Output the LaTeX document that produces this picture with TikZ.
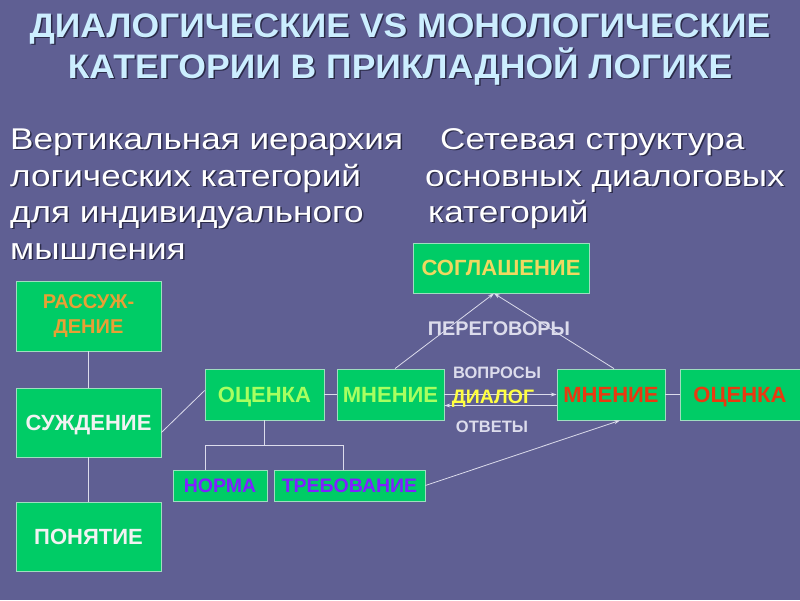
\documentclass[tikz,border=0pt]{standalone}
\usepackage{fontspec}
\setmainfont{Liberation Sans}
\usetikzlibrary{arrows.meta}
\definecolor{bg}{HTML}{5F5F93}
\definecolor{boxfill}{HTML}{00CC66}
\definecolor{boxline}{HTML}{9FDDC0}
\definecolor{titlec}{HTML}{CCEEFF}
\definecolor{shadowc}{HTML}{2A2A48}
\definecolor{orangec}{HTML}{E8A035}
\definecolor{whitec}{HTML}{F2F2F2}
\definecolor{lgreen}{HTML}{A8FF60}
\definecolor{purplec}{HTML}{8020FF}
\definecolor{yellowc}{HTML}{F0D860}
\definecolor{redc}{HTML}{E83A10}
\definecolor{linec}{HTML}{DCDCEC}
\definecolor{dyellow}{HTML}{FFFF40}
\newcommand\wide[1]{\scalebox{1.17}[1]{#1}}
\tikzset{
  catbox/.style={draw=boxline, line width=0.8pt, fill=boxfill, inner sep=0pt,
    font=\bfseries\fontsize{22}{26}\selectfont, align=center},
  nodepth/.style={text depth=0pt},
  conn/.style={draw=linec, line width=0.8pt},
  arr/.style={conn, -{Stealth[length=6pt,width=4pt]}},
  lbl/.style={text=linec, inner sep=0pt},
  titletext/.style={font=\bfseries\fontsize{34}{38}\selectfont, inner sep=0pt, anchor=base},
  bodytext/.style={font=\fontsize{30}{34}\selectfont, inner sep=0pt, anchor=base west},
}
\begin{document}
\begin{tikzpicture}[x=1pt,y=-1pt]
\fill[bg] (0,0) rectangle (800,600);
\useasboundingbox (0,0) rectangle (800,600);
% title
\node[titletext, text=shadowc] (t1s) at (401.5,38.5) {\scalebox{1.045}[1]{ДИАЛОГИЧЕСКИЕ VS МОНОЛОГИЧЕСКИЕ}};
\node[titletext, text=titlec] (t1) at (400,37) {\scalebox{1.045}[1]{ДИАЛОГИЧЕСКИЕ VS МОНОЛОГИЧЕСКИЕ}};
\node[titletext, text=shadowc] (t2s) at (401.5,79.5) {\scalebox{1.045}[1]{КАТЕГОРИИ В ПРИКЛАДНОЙ ЛОГИКЕ}};
\node[titletext, text=titlec] (t2) at (400,78) {\scalebox{1.045}[1]{КАТЕГОРИИ В ПРИКЛАДНОЙ ЛОГИКЕ}};
% body text, left column
\foreach \t/\y [count=\i] in {Вертикальная иерархия/149, логических категорий/186, для индивидуального/222, мышления/259}{
  \node[bodytext, text=shadowc] (ls\i) at (11.5,\y+1.5) {\wide{\t}};
  \node[bodytext, text=white] (l\i) at (10,\y) {\wide{\t}};
}
% body text, right column
\foreach \t/\x/\y [count=\i] in {Сетевая структура/440/149, основных диалоговых/425/186, категорий/428/222}{
  \node[bodytext, text=shadowc] (rs\i) at (\x+1.5,\y+1.5) {\wide{\t}};
  \node[bodytext, text=white] (r\i) at (\x,\y) {\wide{\t}};
}
% boxes
\node[catbox, minimum width=145pt, minimum height=70pt, text=orangec,
  font=\bfseries\fontsize{20}{25}\selectfont] (ras) at (88.5,316) {РАССУЖ-\\ДЕНИЕ};
\node[catbox, nodepth, minimum width=145pt, minimum height=69pt, text=whitec] (sud) at (88.5,422.5) {СУЖДЕНИЕ};
\node[catbox, minimum width=145pt, minimum height=69pt, text=whitec] (pon) at (88.5,536.5) {ПОНЯТИЕ};
\node[catbox, nodepth, minimum width=119pt, minimum height=51pt, text=lgreen] (oc1) at (264.5,394.5) {ОЦЕНКА};
\node[catbox, minimum width=107pt, minimum height=51pt, text=lgreen] (mn1) at (390.5,394.5) {МНЕНИЕ};
\node[catbox, minimum width=94pt, minimum height=31pt, text=purplec,
  font=\bfseries\fontsize{19.5}{22}\selectfont] (norm) at (220,485.5) {НОРМА};
\node[catbox, minimum width=151pt, minimum height=31pt, text=purplec,
  font=\bfseries\fontsize{19.5}{22}\selectfont] (treb) at (349.5,485.5) {ТРЕБОВАНИЕ};
\node[catbox, minimum width=176pt, minimum height=50pt, text=yellowc] (sogl) at (501,268) {СОГЛАШЕНИЕ};
\node[catbox, minimum width=108pt, minimum height=51pt, text=redc] (mn2) at (611,394.5) {МНЕНИЕ};
\node[catbox, nodepth, minimum width=120pt, minimum height=51pt, text=redc] (oc2) at (740,394.5) {ОЦЕНКА};
% connectors
\draw[conn] (ras.south) -- (sud.north);
\draw[conn] (sud.south) -- (pon.north);
\draw[conn] ([yshift=-10pt]sud.east) -- ([yshift=4pt]oc1.west);
\draw[conn] (oc1.east) -- (mn1.west);
\draw[conn] (mn2.east) -- (oc2.west);
\draw[conn] (oc1.south) -- ++(0,25) coordinate (jn);
\draw[conn] ([xshift=-15pt]norm.north) |- (jn) -| ([xshift=-6pt]treb.north);
\draw[arr] ([xshift=4.5pt]mn1.north) -- ([xshift=-7pt]sogl.south);
\draw[arr] ([xshift=3pt]mn2.north) -- ([xshift=-7pt]sogl.south);
\draw[arr] (mn1.east) -- (mn2.west);
\draw[arr] ([yshift=-11pt]mn2.west) -- ([yshift=-11pt]mn1.east);
\draw[arr] (treb.east) -- ([xshift=9pt]mn2.south);
% labels
\node[lbl, nodepth, font=\bfseries\fontsize{19.8}{22}\selectfont] (neg) at (499,329) {ПЕРЕГОВОРЫ};
\node[lbl, font=\bfseries\fontsize{16.5}{19}\selectfont] (vop) at (497,373) {ВОПРОСЫ};
\node[lbl, nodepth, text=dyellow, font=\bfseries\fontsize{19.5}{22}\selectfont] (dia) at (493,397) {ДИАЛОГ};
\node[lbl, font=\bfseries\fontsize{16.5}{19}\selectfont] (otv) at (492,427) {ОТВЕТЫ};
\end{tikzpicture}
\end{document}
